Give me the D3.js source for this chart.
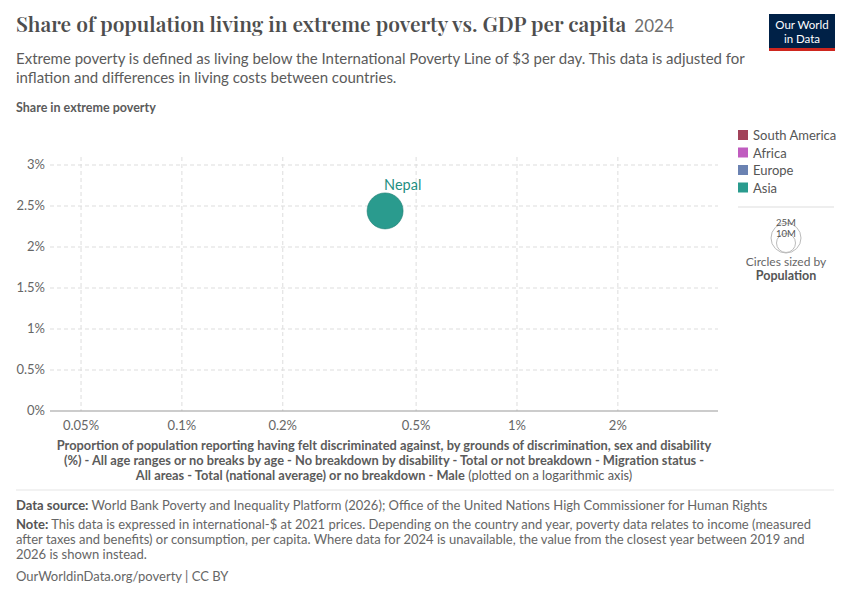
<!DOCTYPE html>
<html><head><meta charset="utf-8">
<script src="https://cdn.jsdelivr.net/npm/d3@7"></script>
<style>
body{margin:0;background:#fff;font-family:Lato,"Noto Sans",sans-serif;}
svg text{font-family:Lato,"Noto Sans",sans-serif;}
</style></head><body>
<svg id="chart" width="850" height="600"></svg>
<script>
var countries = ['Nepal'];
var continents = ['Asia'];
var xValues = [0.404];   // % discriminated against
var yValues = [2.44];    // % extreme poverty
var populations = [30000000];
var legendNames = ['South America', 'Africa', 'Europe', 'Asia'];
var legendColors = ['#a2435a', '#c05cbf', '#6b82b2', '#2a9b8e'];
var xTicks = [0.05, 0.1, 0.2, 0.5, 1, 2];
var yTicks = [0, 0.5, 1, 1.5, 2, 2.5, 3];

var svg = d3.select('#chart');
var margin = {left: 50, right: 718, top: 165, bottom: 411};

var x = d3.scaleLog().domain([0.0404, 3.98]).range([margin.left, margin.right]);
var y = d3.scaleLinear().domain([0, 3]).range([margin.bottom, margin.top]);
var r = d3.scaleSqrt().domain([0, 30000000]).range([0, 18]);
var color = d3.scaleOrdinal().domain(legendNames).range(legendColors);

// title
svg.append('text').attr('x', 16).attr('y', 32)
    .style('font-family', '"Playfair Display",Georgia,"DejaVu Serif",serif')
    .style('font-size', '21px').style('fill', '#4e4e4e').style('font-weight', 600)
    .text('Share of population living in extreme poverty vs. GDP per capita')
    .append('tspan').attr('dx', 8).style('font-family', 'Lato').style('font-weight', 400)
    .style('font-size', '17px').style('fill', '#6e6e6e').text('2024');
svg.append('text').attr('x', 16).attr('y', 64).style('font-size', '15px').style('fill', '#5b5b5b')
    .text('Extreme poverty is defined as living below the International Poverty Line of $3 per day. This data is adjusted for');
svg.append('text').attr('x', 16).attr('y', 83).style('font-size', '15px').style('fill', '#5b5b5b')
    .text('inflation and differences in living costs between countries.');

// logo
svg.append('rect').attr('x', 769).attr('y', 14).attr('width', 66).attr('height', 36).attr('fill', '#002147');
svg.append('rect').attr('x', 769).attr('y', 48).attr('width', 66).attr('height', 3).attr('fill', '#ce261e');
svg.append('text').attr('x', 802).attr('y', 29).attr('text-anchor', 'middle').style('fill', '#fff').style('font-size', '11.5px').text('Our World');
svg.append('text').attr('x', 802).attr('y', 43).attr('text-anchor', 'middle').style('fill', '#fff').style('font-size', '11.5px').text('in Data');

svg.append('text').attr('x', 16).attr('y', 112).style('font-size', '12.5px').style('font-weight', 700).style('fill', '#5b5b5b')
    .text('Share in extreme poverty');

// grid
svg.append('g').selectAll('line').data(yTicks.filter(function(d) { return d > 0; })).enter().append('line')
    .attr('x1', margin.left).attr('x2', margin.right)
    .attr('y1', function(d) { return y(d); }).attr('y2', function(d) { return y(d); })
    .attr('stroke', '#ddd').attr('stroke-dasharray', '4,3');
svg.append('g').selectAll('line').data(xTicks).enter().append('line')
    .attr('y1', margin.top - 8).attr('y2', margin.bottom)
    .attr('x1', function(d) { return x(d); }).attr('x2', function(d) { return x(d); })
    .attr('stroke', '#ddd').attr('stroke-dasharray', '4,3');
svg.append('line').attr('x1', margin.left).attr('x2', margin.right).attr('y1', margin.bottom).attr('y2', margin.bottom).attr('stroke', '#999');

svg.append('g').selectAll('text').data(yTicks).enter().append('text')
    .attr('x', 45).attr('y', function(d) { return y(d) + 4; }).attr('text-anchor', 'end')
    .style('font-size', '13px').style('fill', '#666').text(function(d) { return d + '%'; });
svg.append('g').selectAll('text').data(xTicks).enter().append('text')
    .attr('x', function(d) { return x(d); }).attr('y', 430).attr('text-anchor', 'middle')
    .style('font-size', '13px').style('fill', '#666').text(function(d) { return d + '%'; });

// x axis title
var xt = ['Proportion of population reporting having felt discriminated against, by grounds of discrimination, sex and disability',
    '(%) - All age ranges or no breaks by age - No breakdown by disability - Total or not breakdown - Migration status -',
    'All areas - Total (national average) or no breakdown - Male'];
xt.forEach(function(t, i) {
    var tx = svg.append('text').attr('x', 384).attr('y', 450 + i * 15).attr('text-anchor', 'middle')
        .style('font-size', '12.8px').style('font-weight', 700).style('fill', '#5b5b5b').text(t);
    if (i === 2) tx.append('tspan').style('font-weight', 400).text(' (plotted on a logarithmic axis)');
});

// points
svg.append('g').selectAll('circle').data(countries).enter().append('circle')
    .attr('cx', function(d, i) { return x(xValues[i]); })
    .attr('cy', function(d, i) { return y(yValues[i]); })
    .attr('r', function(d, i) { return r(populations[i]); })
    .attr('fill', function(d, i) { return color(continents[i]); })
    .attr('stroke', '#1f7d72').attr('stroke-width', 0.6);
svg.append('g').selectAll('text').data(countries).enter().append('text')
    .attr('x', function(d, i) { return x(xValues[i]) - 1; })
    .attr('y', function(d, i) { return y(yValues[i]) - r(populations[i]) - 3; })
    .style('font-size', '14.5px').style('fill', '#1f8f82').text(function(d) { return d; });

// legend
var lg = svg.append('g').selectAll('g').data(legendNames).enter().append('g')
    .attr('transform', function(d, i) { return 'translate(738,' + (130 + i * 17.5) + ')'; });
lg.append('rect').attr('width', 10).attr('height', 10).attr('fill', function(d) { return color(d); });
lg.append('text').attr('x', 15).attr('y', 10).style('font-size', '13px').style('fill', '#555').text(function(d) { return d; });

svg.append('line').attr('x1', 738).attr('x2', 834).attr('y1', 207).attr('y2', 207).attr('stroke', '#ddd');
svg.append('circle').attr('cx', 786).attr('cy', 238).attr('r', 15).attr('fill', 'none').attr('stroke', '#bbb');
svg.append('circle').attr('cx', 786).attr('cy', 243).attr('r', 9.5).attr('fill', 'none').attr('stroke', '#bbb');
svg.append('text').attr('x', 786).attr('y', 226).attr('text-anchor', 'middle').style('font-size', '9.5px').style('fill', '#555').text('25M');
svg.append('text').attr('x', 786).attr('y', 237).attr('text-anchor', 'middle').style('font-size', '9.5px').style('fill', '#555').text('10M');
svg.append('text').attr('x', 786).attr('y', 266).attr('text-anchor', 'middle').style('font-size', '12px').style('fill', '#666').text('Circles sized by');
svg.append('text').attr('x', 786).attr('y', 280).attr('text-anchor', 'middle').style('font-size', '12.5px').style('font-weight', 700).style('fill', '#555').text('Population');

// footer
svg.append('line').attr('x1', 16).attr('x2', 834).attr('y1', 490).attr('y2', 490).attr('stroke', '#e5e5e5');
function foot(yy, bold, rest) {
    var t = svg.append('text').attr('x', 16).attr('y', yy).style('font-size', '13px').style('fill', '#666');
    if (bold) t.append('tspan').style('font-weight', 700).style('fill', '#555').text(bold);
    t.append('tspan').text(rest);
}
foot(510, 'Data source:', ' World Bank Poverty and Inequality Platform (2026); Office of the United Nations High Commissioner for Human Rights');
foot(529, 'Note:', ' This data is expressed in international-$ at 2021 prices. Depending on the country and year, poverty data relates to income (measured');
foot(544, '', 'after taxes and benefits) or consumption, per capita. Where data for 2024 is unavailable, the value from the closest year between 2019 and');
foot(559, '', '2026 is shown instead.');
foot(581, '', 'OurWorldinData.org/poverty | CC BY');
</script>
</body></html>
